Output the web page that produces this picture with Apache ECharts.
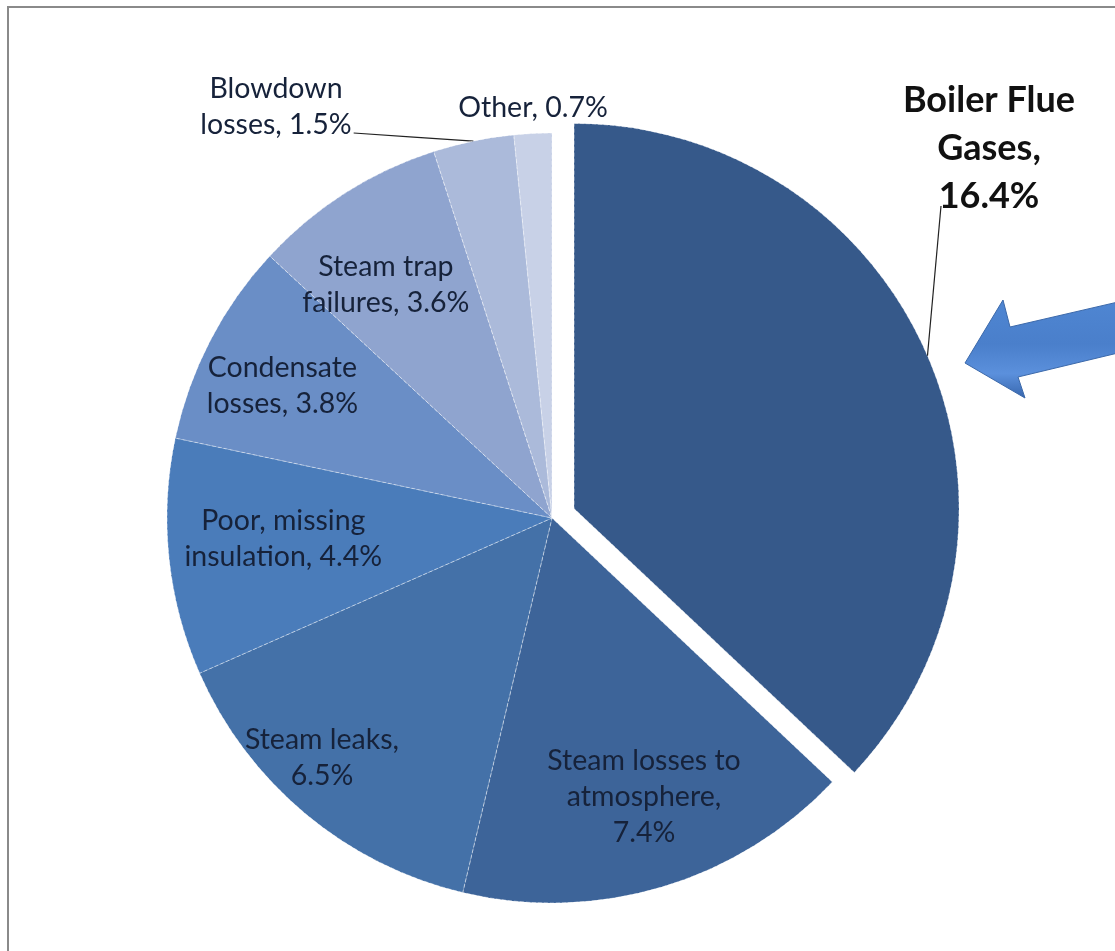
<!DOCTYPE html>
<html>
<head>
<meta charset="utf-8">
<script src="https://cdn.jsdelivr.net/npm/echarts@6/dist/echarts.min.js"></script>
<style>
  html, body { margin: 0; padding: 0; background: #ffffff; }
  #chart { width: 1115px; height: 951px; }
</style>
</head>
<body>
<div id="chart"></div>
<script>
// ---- data ----
const categories = [
  'Boiler Flue Gases',
  'Steam losses to atmosphere',
  'Steam leaks',
  'Poor, missing insulation',
  'Condensate losses',
  'Steam trap failures',
  'Blowdown losses',
  'Other'
];
const values = [16.4, 7.4, 6.5, 4.4, 3.8, 3.6, 1.5, 0.7];
const labelTexts = [
  'Boiler Flue\nGases,\n16.4%',
  'Steam losses to\natmosphere,\n7.4%',
  'Steam leaks,\n6.5%',
  'Poor, missing\ninsulation, 4.4%',
  'Condensate\nlosses, 3.8%',
  'Steam trap\nfailures, 3.6%',
  'Blowdown\nlosses, 1.5%',
  'Other, 0.7%'
];

// ---- styling / layout ----
const colors = ['#36598a', '#3d6499', '#4471a8', '#4a7cba', '#6a8ec6', '#8fa4cf', '#abbada', '#c8d1e7'];
const CX = 552, CY = 518, R = 385, EXPLODE = 24;
const FONT = 'Lato, "Open Sans", sans-serif';
const TEXT = '#16223a';
const SLICE_BORDER = { borderColor: 'rgba(255,255,255,0.45)', borderWidth: 1, borderType: [4, 2] };

const total = values.reduce((a, b) => a + b, 0);
const midAngles = [];
(function () {
  let start = 90;
  values.forEach(v => {
    const span = v / total * 360;
    midAngles.push(start - span / 2);
    start -= span;
  });
})();
const rad = d => d * Math.PI / 180;

// label placement (polar for inside labels: [radius fraction, angle tweak])
const insideSpot = { 1: [0.763, 1.6], 2: [0.863, -4.0], 3: [0.70, -1.4], 4: [0.78, 1.3], 5: [0.743, 3.0] };
const outsideSpot = { 0: [989, 148], 6: [276, 107], 7: [533, 108] };

// boiler (exploded) leader line geometry
const a0 = rad(midAngles[0]);
const bx = CX + EXPLODE * Math.cos(a0) + R * Math.cos(a0);
const by = CY - EXPLODE * Math.sin(a0) - R * Math.sin(a0);
const boilerLineEnd = [outsideSpot[0][0] - 48, outsideSpot[0][1] + 58];

const chart = echarts.init(document.getElementById('chart'), null, { renderer: 'canvas' });

const pieData = values.map((v, i) => {
  const item = {
    name: categories[i],
    value: v,
    itemStyle: { color: colors[i] },
    select: { itemStyle: Object.assign({ color: colors[i] }, SLICE_BORDER) },
    label: { formatter: labelTexts[i] }
  };
  if (i === 0) {
    item.selected = true;
    item.label.show = false;
    item.labelLine = { show: false };
  } else if (i === 6) {
    item.label.position = 'outside';
    item.labelLine = { show: true };
  } else if (i === 7) {
    item.label.position = 'outside';
    item.labelLine = { show: false };
  } else {
    item.label.position = 'inside';
  }
  return item;
});

const option = {
  backgroundColor: '#ffffff',
  animation: false,
  graphic: [
    {
      type: 'rect',
      shape: { x: 8, y: 7, width: 1200, height: 1000 },
      style: { fill: 'none', stroke: '#8a8a8a', lineWidth: 2 },
      z: 0
    },
    {
      type: 'polygon',
      shape: {
        points: [[965, 363], [1003, 300], [1010, 327], [1118, 302], [1118, 353], [1018, 377], [1025, 398]]
      },
      style: {
        fill: {
          type: 'linear', x: 0, y: 0, x2: 0, y2: 1,
          colorStops: [
            { offset: 0, color: '#4f86d2' },
            { offset: 0.45, color: '#4a7fcb' },
            { offset: 0.75, color: '#5b90dc' },
            { offset: 1, color: '#3766ad' }
          ]
        },
        stroke: '#3c69aa',
        lineWidth: 1
      },
      z: 10
    },
    {
      type: 'polyline',
      shape: { points: [[bx, by], boilerLineEnd] },
      style: { stroke: '#222222', lineWidth: 1.2, fill: 'none' },
      z: 10
    },
    {
      type: 'text',
      x: outsideSpot[0][0],
      y: outsideSpot[0][1],
      style: {
        text: labelTexts[0],
        align: 'center',
        verticalAlign: 'middle',
        textAlign: 'center',
        textVerticalAlign: 'middle',
        fontFamily: FONT,
        fontWeight: 'bold',
        fontSize: 36,
        lineHeight: 48,
        fill: '#111111'
      },
      z: 10
    }
  ],
  series: [{
    type: 'pie',
    center: [CX, CY],
    radius: R,
    startAngle: 90,
    clockwise: true,
    selectedMode: 'single',
    selectedOffset: EXPLODE,
    avoidLabelOverlap: false,
    silent: true,
    itemStyle: SLICE_BORDER,
    label: {
      show: true,
      fontFamily: FONT,
      fontSize: 28.5,
      lineHeight: 36,
      color: TEXT,
      align: 'center'
    },
    labelLine: { lineStyle: { color: '#222222', width: 1.2 }, smooth: false },
    labelLayout: function (params) {
      const i = params.dataIndex;
      if (insideSpot[i]) {
        const [f, da] = insideSpot[i];
        const a = rad(midAngles[i] + da);
        return {
          x: CX + R * f * Math.cos(a),
          y: CY - R * f * Math.sin(a),
          align: 'center',
          verticalAlign: 'middle'
        };
      }
      if (!outsideSpot[i]) return {};
      const [lx, ly] = outsideSpot[i];
      const out = { x: lx, y: ly, align: 'center', verticalAlign: 'middle' };
      if (i === 6) {
        const a = rad(midAngles[i]);
        const sx = CX + R * Math.cos(a), sy = CY - R * Math.sin(a);
        const ex = lx + params.labelRect.width / 2 + 2, ey = ly + 26;
        out.labelLinePoints = [[sx, sy], [(sx + ex) / 2, (sy + ey) / 2], [ex, ey]];
      }
      return out;
    },
    data: pieData
  }]
};

chart.setOption(option);
</script>
</body>
</html>
